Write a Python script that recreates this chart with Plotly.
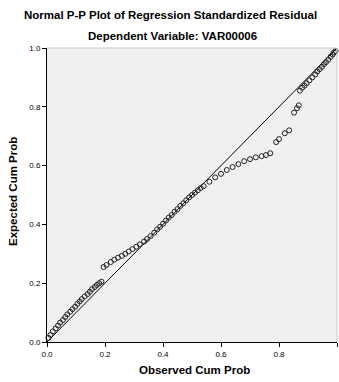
import plotly.graph_objects as go

observed = [0.005, 0.012, 0.02, 0.03, 0.038, 0.045, 0.055, 0.063, 0.07, 0.08, 0.088, 0.097,
            0.105, 0.113, 0.12, 0.13, 0.14, 0.148, 0.155, 0.165, 0.172, 0.18, 0.188,
            0.195, 0.205, 0.22, 0.232, 0.245, 0.258, 0.27, 0.282, 0.295, 0.308, 0.32, 0.335,
            0.345, 0.357, 0.37, 0.38, 0.39, 0.4, 0.41, 0.42, 0.43, 0.44, 0.45, 0.46, 0.47,
            0.48, 0.49, 0.5, 0.51, 0.52, 0.53, 0.54, 0.56, 0.58, 0.6, 0.62, 0.64, 0.66,
            0.68, 0.7, 0.72, 0.74, 0.755, 0.77,
            0.79, 0.80, 0.82, 0.835, 0.852, 0.862, 0.868,
            0.872, 0.88, 0.888, 0.895, 0.905, 0.915, 0.925, 0.932, 0.94, 0.948, 0.955,
            0.962, 0.97, 0.978, 0.985, 0.99, 0.995]
expected = [0.014, 0.024, 0.036, 0.046, 0.056, 0.066, 0.075, 0.085, 0.094, 0.103, 0.112, 0.12,
            0.13, 0.138, 0.146, 0.155, 0.163, 0.171, 0.18, 0.187, 0.194, 0.2, 0.205,
            0.255, 0.262, 0.272, 0.28, 0.287, 0.293, 0.3, 0.308, 0.316, 0.324, 0.332, 0.342,
            0.35, 0.36, 0.372, 0.383, 0.392, 0.402, 0.413, 0.423, 0.432, 0.443, 0.452, 0.463, 0.472,
            0.482, 0.492, 0.5, 0.508, 0.516, 0.524, 0.53, 0.545, 0.56, 0.572, 0.585, 0.595, 0.605,
            0.615, 0.622, 0.628, 0.632, 0.636, 0.642,
            0.68, 0.69, 0.71, 0.72, 0.78, 0.795, 0.805,
            0.855, 0.865, 0.872, 0.88, 0.89, 0.9, 0.91, 0.92, 0.928, 0.936, 0.945,
            0.952, 0.96, 0.97, 0.978, 0.985, 0.99]

tick_vals = [0.0, 0.2, 0.4, 0.6, 0.8, 1.0]
tick_text = ["0.0", "0.2", "0.4", "0.6", "0.8", "1.0"]

title1 = "Normal P-P Plot of Regression Standardized Residual"
title2 = "Dependent Variable: VAR00006"
x_title = "Observed Cum Prob"
y_title = "Expected Cum Prob"

fig = go.Figure()
fig.add_trace(go.Scatter(x=[0, 1], y=[0, 1], mode="lines",
                         line=dict(color="black", width=1), hoverinfo="skip"))
fig.add_trace(go.Scatter(x=observed, y=expected, mode="markers", cliponaxis=False,
                         marker=dict(symbol="circle-open", size=5, color="#222222",
                                     line=dict(width=1, color="#222222"))))

font = "Liberation Sans, Arial, sans-serif"
W, H = 339, 382
L, R, T, B = 47, 2, 48, 40
pw, ph = W - L - R, H - T - B

def px(x):
    return (x - L) / pw

def py(y):
    return (H - B - y) / ph

fig.update_layout(
    width=W, height=H, margin=dict(l=L, r=R, t=T, b=B),
    paper_bgcolor="white", plot_bgcolor="#f0f0f0", showlegend=False,
    font=dict(family=font, color="black"),
    xaxis=dict(range=[0, 1], tickvals=tick_vals, ticktext=tick_text, showgrid=False,
               zeroline=False, showline=True, linecolor="black", linewidth=1,
               ticks="outside", ticklen=4, tickcolor="black", tickfont=dict(size=8)),
    yaxis=dict(range=[0, 1], tickvals=tick_vals, ticktext=tick_text, showgrid=False,
               zeroline=False, showline=True, linecolor="black", linewidth=1,
               ticks="outside", ticklen=4, tickcolor="black", tickfont=dict(size=8)),
    annotations=[
        dict(text="<b>" + title1 + "</b>", x=px(170), y=py(15), xref="paper", yref="paper",
             showarrow=False, font=dict(size=11.5), xanchor="center", yanchor="middle"),
        dict(text="<b>" + title2 + "</b>", x=px(172), y=py(36), xref="paper", yref="paper",
             showarrow=False, font=dict(size=11.5), xanchor="center", yanchor="middle"),
        dict(text="<b>" + x_title + "</b>", x=px(194), y=py(370), xref="paper", yref="paper",
             showarrow=False, font=dict(size=11.5), xanchor="center", yanchor="middle"),
        dict(text="<b>" + y_title + "</b>", x=px(13), y=py(192), xref="paper", yref="paper",
             showarrow=False, font=dict(size=11.5), xanchor="center", yanchor="middle",
             textangle=-90),
    ],
    shapes=[
        dict(type="line", xref="paper", yref="paper", x0=0, x1=1, y0=1, y1=1,
             line=dict(color="#c8c8c8", width=1)),
        dict(type="line", xref="paper", yref="paper", x0=1, x1=1, y0=0, y1=1,
             line=dict(color="#c8c8c8", width=1)),
    ],
)

fig.write_html("out.html", config={"displayModeBar": False},
               post_script="document.body.style.margin='0';"
                           "document.body.style.overflow='hidden';")
